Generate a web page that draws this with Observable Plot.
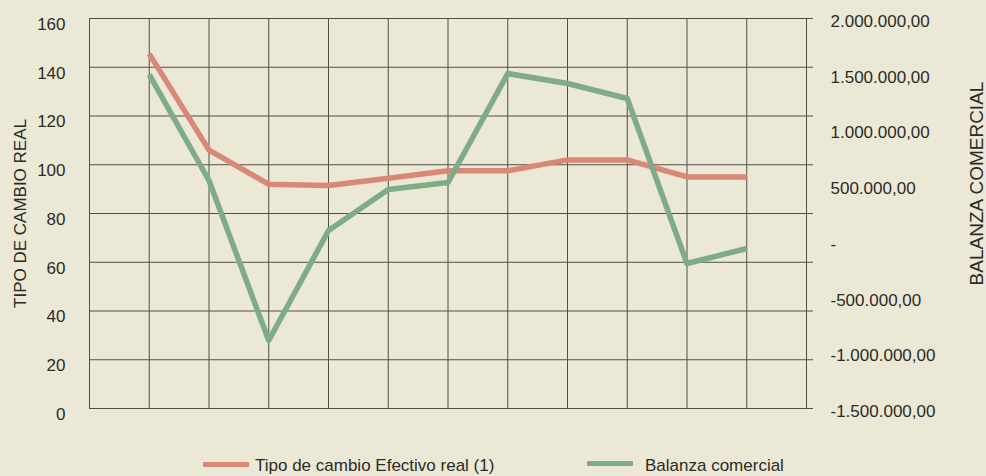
<!DOCTYPE html>
<html>
<head>
<meta charset="utf-8">
<script src="https://cdn.jsdelivr.net/npm/d3@7"></script>
<script src="https://cdn.jsdelivr.net/npm/@observablehq/plot@0.6"></script>
<style>
  html, body { margin: 0; padding: 0; background: #ebe8d5; }
  body { width: 986px; height: 476px; overflow: hidden; font-family: "Liberation Sans", Arial, sans-serif; color: #2b2b28; }
  #chart svg { display: block; background: transparent; }
  #legend { position: relative; width: 986px; height: 36px; }
  .sw { position: absolute; height: 5px; width: 46px; }
  .lt { position: absolute; font-size: 17px; line-height: 20px; white-space: nowrap; color: #2b2b28; }
</style>
</head>
<body>
<div id="chart"></div>
<div id="legend">
  <div class="sw" style="left:203px; top:22px; background:#d98878;"></div>
  <div class="lt" id="l1" style="left:255px; top:16px;"></div>
  <div class="sw" style="left:587px; top:21px; background:#7eab88;"></div>
  <div class="lt" id="l2" style="left:645px; top:16px;"></div>
</div>
<script>
// ---- data ----
const periods = [1, 2, 3, 4, 5, 6, 7, 8, 9, 10, 11];          // unlabeled periods on the x axis
const tipoCambio = [145.5, 106, 92, 91.5, 94.5, 97.5, 97.5, 102, 102, 95, 95];
const balanza = [1497000, 546000, -890000, 97000, 465000, 528000, 1506000, 1417000, 1282000, -199000, -64000];
const gridColumns = [0, 1, 2, 3, 4, 5, 6, 7, 8, 9, 10, 11, 12];
const leftTicks = [0, 20, 40, 60, 80, 100, 120, 140, 160];
const rightTicks = [-1500000, -1000000, -500000, 0, 500000, 1000000, 1500000, 2000000];
const rightTickLabels = ["-1.500.000,00", "-1.000.000,00", "-500.000,00", "-", "500.000,00", "1.000.000,00", "1.500.000,00", "2.000.000,00"];
const leftTitle = "TIPO DE CAMBIO REAL";
const rightTitle = "BALANZA COMERCIAL";
const seriesNames = ["Tipo de cambio Efectivo real (1)", "Balanza comercial"];

// right axis domain mapped onto the left scale
const rightDomain = [-1500000, 2000000];
const leftDomain = [0, 160];
const toLeft = v => (v - rightDomain[0]) / (rightDomain[1] - rightDomain[0]) * (leftDomain[1] - leftDomain[0]) + leftDomain[0];

const rows = periods.map((p, i) => ({p, tc: tipoCambio[i], bc: toLeft(balanza[i])}));
const rightRows = rightTicks.map((v, i) => ({y: toLeft(v), label: rightTickLabels[i]}));

const gridColor = "#4f4f48";
const textColor = "#2b2b28";

const chart = Plot.plot({
  width: 986,
  height: 440,
  marginLeft: 89,
  marginRight: 180,
  marginTop: 18,
  marginBottom: 32,
  style: {fontFamily: "'Liberation Sans', Arial, sans-serif", background: "transparent", color: textColor},
  x: {domain: [0, 12], axis: null},
  y: {domain: leftDomain, axis: null},
  marks: [
    Plot.ruleX(gridColumns, {x: d => d, stroke: gridColor, strokeWidth: 1, strokeOpacity: 1}),
    Plot.ruleY(leftTicks, {y: d => d, stroke: gridColor, strokeWidth: 1, insetRight: -7}),
    Plot.text(leftTicks, {x: 0, y: d => d, text: d => String(d), textAnchor: "end", dx: -24, dy: 6, fontSize: 17, fill: textColor}),
    Plot.text(rightRows, {x: 12, y: "y", text: "label", textAnchor: "start", dx: 24, dy: 3, fontSize: 17, fill: textColor}),
    Plot.text([leftTitle], {frameAnchor: "left", textAnchor: "middle", dx: -69, rotate: -90, fontSize: 17, fill: textColor}),
    Plot.text([rightTitle], {frameAnchor: "right", textAnchor: "middle", dx: 170, dy: -30, rotate: -90, fontSize: 19, fill: textColor}),
    Plot.line(rows, {x: "p", y: "tc", stroke: "#d98878", strokeWidth: 5.5, strokeLinejoin: "round", strokeLinecap: "butt"}),
    Plot.line(rows, {x: "p", y: "bc", stroke: "#7eab88", strokeWidth: 5.5, strokeLinejoin: "round", strokeLinecap: "butt"})
  ]
});
document.getElementById("chart").appendChild(chart);
document.getElementById("l1").textContent = seriesNames[0];
document.getElementById("l2").textContent = seriesNames[1];
</script>
</body>
</html>
